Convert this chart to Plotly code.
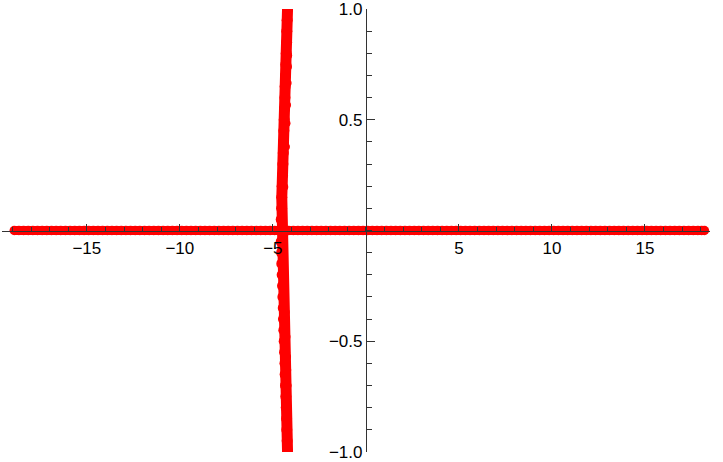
import plotly.graph_objects as go

# horizontal branch (y = 0)
flat_x = [
    -18.9, -18.65, -18.4, -18.15, -17.9, -17.65, -17.4, -17.15, -16.9, -16.65,
    -16.4, -16.15, -15.9, -15.65, -15.4, -15.15, -14.9, -14.65, -14.4, -14.15,
    -13.9, -13.65, -13.4, -13.15, -12.9, -12.65, -12.4, -12.15, -11.9, -11.65,
    -11.4, -11.15, -10.9, -10.65, -10.4, -10.15, -9.9, -9.65, -9.4, -9.15,
    -8.9, -8.65, -8.4, -8.15, -7.9, -7.65, -7.4, -7.15, -6.9, -6.65,
    -6.4, -6.15, -5.9, -5.65, -5.4, -5.15, -4.9, -4.65, -4.4, -4.15,
    -3.9, -3.65, -3.4, -3.15, -2.9, -2.65, -2.4, -2.15, -1.9, -1.65,
    -1.4, -1.15, -0.9, -0.65, -0.4, -0.15, 0.1, 0.35, 0.6, 0.85,
    1.1, 1.35, 1.6, 1.85, 2.1, 2.35, 2.6, 2.85, 3.1, 3.35,
    3.6, 3.85, 4.1, 4.35, 4.6, 4.85, 5.1, 5.35, 5.6, 5.85,
    6.1, 6.35, 6.6, 6.85, 7.1, 7.35, 7.6, 7.85, 8.1, 8.35,
    8.6, 8.85, 9.1, 9.35, 9.6, 9.85, 10.1, 10.35, 10.6, 10.85,
    11.1, 11.35, 11.6, 11.85, 12.1, 12.35, 12.6, 12.85, 13.1, 13.35,
    13.6, 13.85, 14.1, 14.35, 14.6, 14.85, 15.1, 15.35, 15.6, 15.85,
    16.1, 16.35, 16.6, 16.85, 17.1, 17.35, 17.6, 17.85, 18.05, 18.2,
]
flat_y = [0] * len(flat_x)

# near-vertical branch around x = -4.5
curve_y = [
    -1.0, -0.95, -0.9, -0.85, -0.8, -0.75, -0.7, -0.65, -0.6, -0.55,
    -0.5, -0.45, -0.4, -0.35, -0.3, -0.25, -0.2, -0.15, -0.1, -0.05,
    0.0, 0.05, 0.1, 0.15, 0.2, 0.25, 0.3, 0.35, 0.4, 0.45,
    0.5, 0.55, 0.6, 0.65, 0.7, 0.75, 0.8, 0.85, 0.9, 0.95, 1.0,
]
curve_x = [
    -4.21, -4.23, -4.25, -4.26, -4.28, -4.30, -4.32, -4.34, -4.35, -4.37,
    -4.39, -4.41, -4.43, -4.44, -4.46, -4.48, -4.50, -4.52, -4.53, -4.55,
    -4.57, -4.55, -4.53, -4.52, -4.50, -4.48, -4.46, -4.44, -4.43, -4.41,
    -4.39, -4.37, -4.35, -4.34, -4.32, -4.30, -4.28, -4.26, -4.25, -4.23, -4.21,
]

# stray points sticking out on the right of the vertical branch
stray_y = [0.196, 0.378, 0.485, 0.567, 0.666, 0.74, 0.79,
           -0.195, -0.368, -0.48, -0.57, -0.63, -0.7]
stray_x = [-4.36, -4.27, -4.24, -4.21, -4.18, -4.16, -4.15,
           -4.36, -4.28, -4.24, -4.21, -4.2, -4.18]

x_ticks = [-15, -10, -5, 5, 10, 15]
x_labels = ["\u221215", "\u221210", "\u22125", "5", "10", "15"]
y_ticks = [-1, -0.5, 0.5, 1]
y_labels = ["\u22121.0", "\u22120.5", "0.5", "1.0"]

red = "#ff0000"
axis_col = "#333333"
x_range = [-19.56, 18.5]

fig = go.Figure()
fig.add_trace(go.Scatter(x=flat_x, y=flat_y, mode="lines+markers",
                         line=dict(color=red, width=9),
                         marker=dict(color=red, size=9.5)))
fig.add_trace(go.Scatter(x=curve_x, y=curve_y, mode="lines+markers",
                         line=dict(color=red, width=11),
                         marker=dict(color=red, size=11)))
fig.add_trace(go.Scatter(x=stray_x, y=stray_y, mode="markers",
                         marker=dict(color=red, size=7)))

fig.update_layout(
    width=723,
    height=462,
    margin=dict(l=2, r=13, t=9, b=10),
    plot_bgcolor="white",
    paper_bgcolor="white",
    showlegend=False,
    font=dict(family="Liberation Sans", size=17, color="black"),
)

fig.update_xaxes(
    range=x_range,
    anchor="free",
    position=0.5,
    automargin=False,
    showline=True, linecolor=axis_col, linewidth=1,
    showgrid=False, zeroline=False,
    ticks="inside", ticklen=7, tickwidth=1, tickcolor=axis_col,
    tickvals=x_ticks, ticktext=x_labels,
    ticklabelstandoff=2,
    minor=dict(ticks="inside", ticklen=4, tickcolor=axis_col, dtick=1, tick0=0),
)
fig.update_yaxes(
    range=[-1.0005, 1.0005],
    anchor="free",
    position=(0 - x_range[0]) / (x_range[1] - x_range[0]),
    automargin=False,
    showline=True, linecolor=axis_col, linewidth=1,
    showgrid=False, zeroline=False,
    ticks="inside", ticklen=8, tickwidth=1, tickcolor=axis_col,
    tickvals=y_ticks, ticktext=y_labels,
    minor=dict(ticks="inside", ticklen=5, tickcolor=axis_col, dtick=0.1, tick0=0),
)

# the page's default body margin would shift the figure by 8 px
fig.write_html("out.html", config={"displayModeBar": False},
               post_script="document.body.style.margin = '0';")
